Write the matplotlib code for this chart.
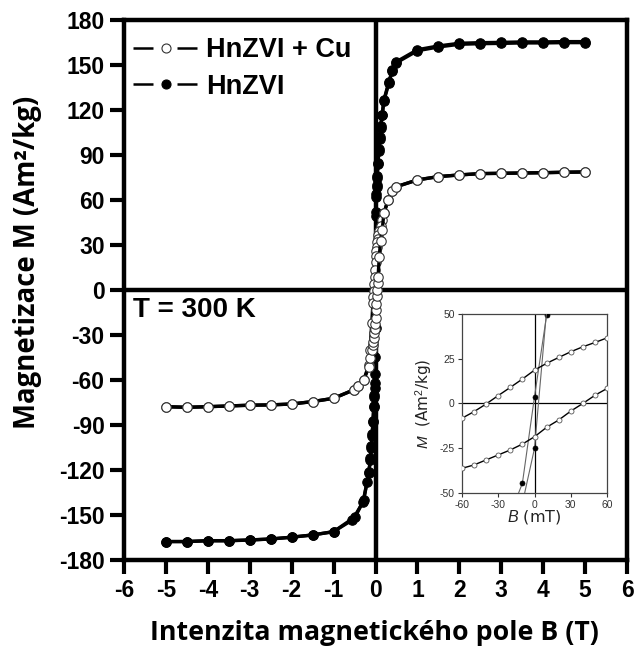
import matplotlib
matplotlib.use("Agg")
import matplotlib.pyplot as plt
from matplotlib.lines import Line2D
import numpy as np

plt.rcParams['axes.unicode_minus'] = False
plt.rcParams['mathtext.fontset'] = 'custom'
plt.rcParams['mathtext.rm'] = 'Liberation Sans'
plt.rcParams['mathtext.it'] = 'Liberation Sans:italic'

# ---------------- data (B in T, M in Am2/kg) ----------------
# HnZVI + Cu (open circles), descending branch (+5 T -> -5 T)
cu_B_down = [5.0, 4.5, 4.0, 3.5, 3.0, 2.5, 2.0, 1.5, 1.0, 0.5, 0.4, 0.3, 0.2, 0.16, 0.12, 0.09,
             0.06, 0.05, 0.04, 0.03, 0.02, 0.01, 0.0, -0.01, -0.02, -0.03, -0.04, -0.05, -0.06,
             -0.09, -0.13, -0.16, -0.28, -0.42, -0.52, -1.0, -1.5, -2.0, -2.5, -3.0, -3.5, -4.0,
             -4.5, -5.0]
cu_M_down = [78.7, 78.5, 78.2, 78.0, 77.8, 77.6, 76.7, 75.6, 73.4, 68.9, 65.7, 60.0, 51.1, 46.5,
             42.5, 39.5, 36.7, 34.1, 31.7, 28.9, 25.7, 22.4, 18.6, 13.6, 8.9, 4.3, -0.4, -4.7,
             -8.4, -22.0, -40.0, -50.0, -60.0, -64.3, -66.6, -72.2, -74.4, -76.0, -76.6, -76.8,
             -77.3, -77.8, -78.2, -77.8]
# HnZVI + Cu, ascending branch (-5 T -> +5 T)
cu_B_up = [-5.0, -4.5, -4.0, -3.5, -3.0, -2.5, -2.0, -1.5, -1.0, -0.52, -0.42, -0.28, -0.16, -0.13,
           -0.09, -0.06, -0.05, -0.04, -0.03, -0.02, -0.01, 0.0, 0.01, 0.02, 0.03, 0.04, 0.05,
           0.06, 0.09, 0.12, 0.16, 0.2, 0.3, 0.4, 0.5, 1.0, 1.5, 2.0, 2.5, 3.0, 3.5, 4.0, 4.5, 5.0]
cu_M_up = [-77.8, -78.2, -77.8, -77.3, -76.8, -76.6, -76.0, -74.4, -72.2, -66.6, -64.3, -60.0,
           -51.3, -45.5, -40.0, -36.4, -34.5, -31.7, -28.9, -26.1, -22.8, -18.7, -13.4, -9.3,
           -4.3, 0.0, 4.6, 8.4, 22.0, 33.0, 40.0, 51.1, 60.0, 65.7, 68.9, 73.4, 75.6, 76.7, 77.6,
           77.8, 78.0, 78.2, 78.5, 78.7]

# HnZVI (filled circles), descending branch
fe_B_down = [5.0, 4.5, 4.0, 3.5, 3.0, 2.5, 2.0, 1.5, 1.0, 0.5, 0.4, 0.32, 0.2, 0.16, 0.12, 0.1,
             0.08, 0.06, 0.04, 0.03, 0.02, 0.01, 0.0, -0.01, -0.02, -0.03, -0.04, -0.06, -0.08,
             -0.1, -0.12, -0.16, -0.28, -0.48, -1.0, -1.5, -2.0, -2.5, -3.0, -3.5, -4.0, -4.5,
             -5.0]
fe_M_down = [165.6, 165.6, 165.4, 165.4, 165.1, 164.9, 164.5, 162.7, 160.2, 152.2, 146.7, 138.9,
             126.7, 116.7, 109.4, 102.0, 94.0, 85.0, 76.0, 70.0, 64.0, 49.4, 3.7, -44.8, -62.0,
             -70.0, -77.0, -87.0, -96.0, -104.0, -113.0, -121.1, -140.0, -151.1, -161.1, -163.3,
             -164.8, -166.0, -166.6, -167.1, -167.1, -167.7, -167.7]
# HnZVI, ascending branch
fe_B_up = [-5.0, -4.5, -4.0, -3.5, -3.0, -2.5, -2.0, -1.5, -1.0, -0.55, -0.3, -0.2, -0.16, -0.12,
           -0.1, -0.08, -0.06, -0.04, -0.03, -0.02, -0.01, 0.0, 0.01, 0.02, 0.03, 0.04, 0.06,
           0.08, 0.1, 0.12, 0.16, 0.2, 0.32, 0.4, 0.5, 1.0, 1.5, 2.0, 2.5, 3.0, 3.5, 4.0, 4.5, 5.0]
fe_M_up = [-167.7, -167.7, -167.2, -167.2, -166.7, -166.0, -164.8, -163.3, -161.1, -153.3,
           -141.5, -128.0, -122.0, -112.0, -105.0, -97.0, -88.0, -78.0, -71.0, -65.0, -56.0,
           -25.2, 52.0, 62.0, 69.0, 75.0, 84.0, 93.0, 101.0, 108.0, 117.0, 126.0, 138.0, 146.0,
           151.5, 159.5, 162.0, 163.8, 164.2, 164.4, 164.7, 164.7, 164.9, 164.9]

series_labels = ["HnZVI + Cu", "HnZVI"]
x_ticks = [-6, -5, -4, -3, -2, -1, 0, 1, 2, 3, 4, 5, 6]
y_ticks = [-180, -150, -120, -90, -60, -30, 0, 30, 60, 90, 120, 150, 180]
inset_x_ticks = [-60, -30, 0, 30, 60]
inset_y_ticks = [-50, -25, 0, 25, 50]

# ---------------- figure ----------------
W, H = 634, 650
fig = plt.figure(figsize=(W / 100, H / 100), dpi=100)
fig.patch.set_facecolor('white')

ax = fig.add_axes([124 / W, 1 - 560 / H, (627 - 124) / W, (560 - 20) / H])
ax.set_xlim(-6, 6)
ax.set_ylim(-180, 180)

ax.axhline(0, color='black', lw=3.2, zorder=1)
ax.axvline(0, color='black', lw=3.2, zorder=1)

line_kw = dict(color='black', lw=2.4, marker='o', ms=6.8, zorder=3)
for Bs, Ms in [(fe_B_down, fe_M_down), (fe_B_up, fe_M_up)]:
    ax.plot(Bs, Ms, mfc='black', mec='black', mew=0.8, **line_kw)
for Bs, Ms in [(cu_B_down, cu_M_down), (cu_B_up, cu_M_up)]:
    ax.plot(Bs, Ms, mfc='white', mec='#333333', mew=0.8, **{**line_kw, 'zorder': 4})

for s in ax.spines.values():
    s.set_linewidth(3.2)
ax.set_xticks(x_ticks)
ax.set_yticks(y_ticks)
ax.set_xticklabels([str(t) for t in x_ticks])
ax.set_yticklabels([str(t) for t in y_ticks])
ax.tick_params(direction='out', length=10, width=3.0, pad=4)
for lab in ax.get_xticklabels() + ax.get_yticklabels():
    lab.set_fontfamily('Liberation Sans')
    lab.set_fontweight('bold')
    lab.set_fontsize(16.5)

# legend
dash = (0, (8.0, 9.6))
h1 = Line2D([], [], color='black', lw=1.8, ls=dash, marker='o', ms=6.5,
            mfc='white', mec='#333333', mew=0.8)
h2 = Line2D([], [], color='black', lw=1.8, ls=dash, marker='o', ms=6.5,
            mfc='black', mec='black', mew=0.8)
leg = ax.legend([h1, h2], series_labels, loc='upper left',
                bbox_to_anchor=(0.018, 0.968), frameon=False, borderpad=0,
                borderaxespad=0, handlelength=2.4, handletextpad=0.3,
                labelspacing=0.38, numpoints=1,
                prop=dict(family='Liberation Sans', weight='bold', size=19.5))

ax.text(0.018, 0.487, "T = 300 K", transform=ax.transAxes, ha='left', va='top',
        fontfamily='Liberation Sans', fontweight='bold', fontsize=20)

fig.text(374 / W, 1 - 640 / H, "Intenzita magnetického pole B (T)", ha='center',
         va='baseline', fontfamily='Open Sans', fontweight='bold', fontsize=19.3)
fig.text(28 / W, 1 - 262 / H, "Magnetizace M (Am²/kg)", ha='center', va='center',
         rotation=90, fontfamily='Open Sans', fontweight='bold', fontsize=19.8)

# ---------------- inset (B in mT) ----------------
ax2 = fig.add_axes([461.7 / W, 1 - 492.7 / H, (607.3 - 461.7) / W, (492.7 - 314) / H])
ax2.set_xlim(-60, 60)
ax2.set_ylim(-50, 50)
ax2.axhline(0, color='black', lw=0.9, zorder=1)
ax2.axvline(0, color='black', lw=0.9, zorder=1)
for Bs, Ms in [(fe_B_down, fe_M_down), (fe_B_up, fe_M_up)]:
    ax2.plot(np.array(Bs) * 1000, Ms, color='#666666', lw=0.8, marker='o', ms=3.6,
             mfc='black', mec='black', mew=0.5, zorder=3)
for Bs, Ms in [(cu_B_down, cu_M_down), (cu_B_up, cu_M_up)]:
    ax2.plot(np.array(Bs) * 1000, Ms, color='black', lw=1.0, marker='o', ms=3.6,
             mfc='white', mec='#555555', mew=0.6, zorder=4)
for s in ax2.spines.values():
    s.set_linewidth(0.9)
    s.set_color('#444444')
ax2.set_xticks(inset_x_ticks)
ax2.set_yticks(inset_y_ticks)
ax2.set_xticklabels([str(t) for t in inset_x_ticks])
ax2.set_yticklabels([str(t) for t in inset_y_ticks])
ax2.tick_params(direction='out', length=3, width=0.8, pad=2, labelsize=7.5,
                colors='#333333')
for lab in ax2.get_xticklabels() + ax2.get_yticklabels():
    lab.set_fontfamily('Liberation Sans')
ax2.set_xlabel(r'$\it{B}$ (mT)', fontsize=11.5, labelpad=-1, color='#222222')
ax2.set_ylabel(r'$\it{M}$  (Am$^2$/kg)', fontsize=11, labelpad=3, color='#222222')

fig.savefig("out.png", dpi=100, facecolor='white')
